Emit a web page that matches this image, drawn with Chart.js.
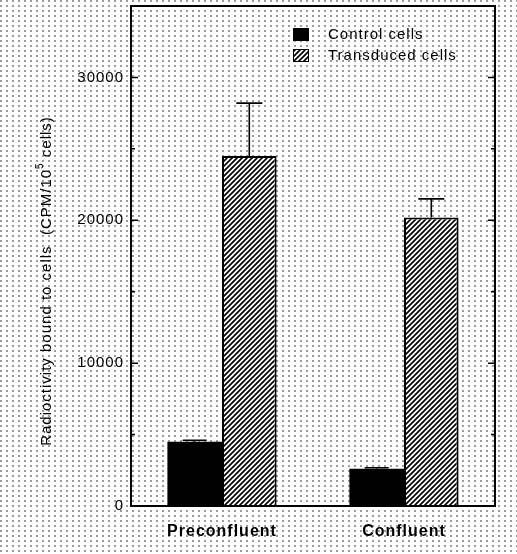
<!DOCTYPE html>
<html>
<head>
<meta charset="utf-8">
<script src="https://cdn.jsdelivr.net/npm/chart.js@4.4.1/dist/chart.umd.min.js"></script>
<style>
  html, body { margin: 0; padding: 0; }
  body {
    width: 517px; height: 554px; overflow: hidden;
    background-color: #fff;
    background-image: radial-gradient(circle at 1px 1px, #9a9a9a 0.7px, transparent 1.1px);
    background-size: 6px 5px;
  }
</style>
</head>
<body>
<canvas id="myChart" width="517" height="554"></canvas>
<script>
// values (CPM / 10^5 cells)
const categories = ['Preconfluent', 'Confluent'];
const controlCells = [4500, 2600];
const transducedCells = [24500, 20200];
const controlErr = [100, 80];        // upper error only
const transducedErr = [3700, 1300];
const yMax = 35000;
const yStep = 5000;
const yLabelled = [0, 10000, 20000, 30000];

const FONT = "'Liberation Sans', Arial, Helvetica, sans-serif";

function hatchPattern() {
    const c = document.createElement('canvas');
    c.width = 5; c.height = 5;
    const g = c.getContext('2d');
    g.fillStyle = '#fff';
    g.fillRect(0, 0, 5, 5);
    g.strokeStyle = '#000';
    g.lineWidth = 1.7;
    g.beginPath();
    g.moveTo(-1, 6); g.lineTo(6, -1);
    g.moveTo(-1, 1); g.lineTo(1, -1);
    g.moveTo(4, 6); g.lineTo(6, 4);
    g.stroke();
    return g.createPattern(c, 'repeat');
}

const errors = [controlErr, transducedErr];

// scanned lettering is spaced out a bit
const spacing = {
    id: 'spacing',
    beforeDraw(chart) { chart.ctx.letterSpacing = '1px'; }
};

// error bars (upward), frame with inward ticks, legend, y title
const extras = {
    id: 'extras',
    afterDatasetsDraw(chart) {
        const ctx = chart.ctx;
        const y = chart.scales.y;
        const area = chart.chartArea;
        ctx.save();

        // error bars
        ctx.strokeStyle = '#000';
        ctx.lineWidth = 1.6;
        chart.data.datasets.forEach((ds, i) => {
            chart.getDatasetMeta(i).data.forEach((bar, j) => {
                const top = y.getPixelForValue(ds.data[j] + errors[i][j]);
                const cap = i === 0 ? 12 : 13;
                ctx.beginPath();
                ctx.moveTo(bar.x, bar.y);
                ctx.lineTo(bar.x, top);
                ctx.moveTo(bar.x - cap, top);
                ctx.lineTo(bar.x + cap, top);
                ctx.stroke();
            });
        });

        // frame
        ctx.lineWidth = 2;
        ctx.strokeRect(area.left, area.top, area.right - area.left, area.bottom - area.top);

        // inward ticks on left and right
        ctx.lineWidth = 1.5;
        for (let v = yStep; v < yMax; v += yStep) {
            const py = y.getPixelForValue(v);
            const len = yLabelled.includes(v) ? 7 : 4;
            ctx.beginPath();
            ctx.moveTo(area.left, py); ctx.lineTo(area.left + len, py);
            ctx.moveTo(area.right, py); ctx.lineTo(area.right - len, py);
            ctx.stroke();
        }

        // legend
        ctx.font = '15px ' + FONT;
        ctx.textBaseline = 'middle';
        ctx.textAlign = 'left';
        chart.data.datasets.forEach((ds, i) => {
            const ly = 28 + i * 21;
            ctx.fillStyle = ds.backgroundColor;
            ctx.fillRect(293, ly, 16, 13);
            ctx.lineWidth = 1;
            ctx.strokeStyle = '#000';
            ctx.strokeRect(293.5, ly + 0.5, 15, 12);
            ctx.fillStyle = '#000';
            ctx.fillText(ds.label, 328, ly + 7);
        });

        // y axis title, rotated, with superscript 5
        const parts = ['Radioctivity bound to cells  (CPM/10', '5', ' cells)'];
        ctx.translate(47, 281);
        ctx.rotate(-Math.PI / 2);
        ctx.font = '15px ' + FONT;
        const w0 = ctx.measureText(parts[0]).width;
        const w2 = ctx.measureText(parts[2]).width;
        ctx.font = '10px ' + FONT;
        const w1 = ctx.measureText(parts[1]).width;
        let x = -(w0 + w1 + w2) / 2;
        ctx.fillStyle = '#000';
        ctx.font = '15px ' + FONT;
        ctx.fillText(parts[0], x, 0);
        x += w0;
        ctx.font = '10px ' + FONT;
        ctx.fillText(parts[1], x, -7);
        x += w1;
        ctx.font = '15px ' + FONT;
        ctx.fillText(parts[2], x, 0);

        ctx.restore();
    }
};

const myChart = new Chart(document.getElementById('myChart').getContext('2d'), {
    type: 'bar',
    data: {
        labels: categories,
        datasets: [{
            label: 'Control cells',
            data: controlCells,
            backgroundColor: '#000',
            borderColor: '#000',
            borderWidth: 0
        }, {
            label: 'Transduced cells',
            data: transducedCells,
            backgroundColor: hatchPattern(),
            borderColor: '#000',
            borderWidth: 2
        }]
    },
    options: {
        responsive: false,
        animation: false,
        layout: { padding: { top: 0, right: 22, left: 0, bottom: 0 } },
        categoryPercentage: 0.6,
        barPercentage: 1.0,
        plugins: {
            legend: { display: false },
            tooltip: { enabled: false }
        },
        scales: {
            x: {
                grid: { display: false, drawTicks: false },
                border: { display: false },
                ticks: {
                    color: '#000',
                    padding: 16,
                    font: { family: FONT, size: 16, weight: 'bold' }
                },
                afterFit(s) { s.height = 48; }
            },
            y: {
                min: 0,
                max: yMax,
                grid: { display: false, drawTicks: false },
                border: { display: false },
                ticks: {
                    stepSize: yStep,
                    color: '#000',
                    padding: 7,
                    font: { family: FONT, size: 15 },
                    callback: v => yLabelled.includes(v) ? String(v) : ''
                },
                afterFit(s) {
                    s.width = 131;
                    s.paddingTop = 6;
                    s.paddingBottom = 0;
                }
            }
        }
    },
    plugins: [spacing, extras]
});
</script>
</body>
</html>
